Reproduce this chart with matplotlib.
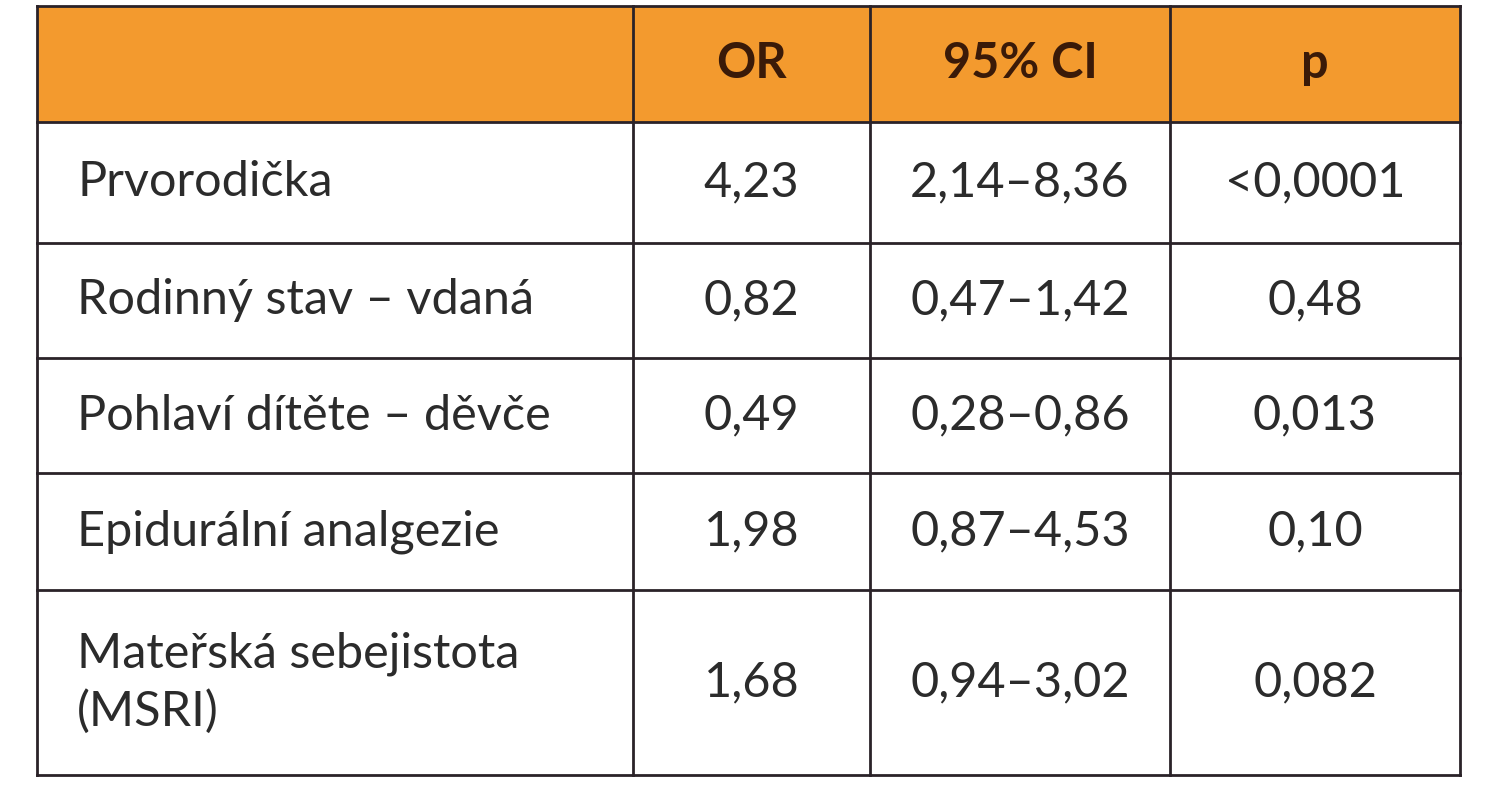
import matplotlib.pyplot as plt

header = ["", "OR", "95% CI", "p"]
labels = ["Prvorodička", "Rodinný stav – vdaná", "Pohlaví dítěte – děvče",
          "Epidurální analgezie", "Mateřská sebejistota\n(MSRI)"]
odds = ["4,23", "0,82", "0,49", "1,98", "1,68"]
ci = ["2,14–8,36", "0,47–1,42", "0,28–0,86", "0,87–4,53", "0,94–3,02"]
pvals = ["<0,0001", "0,48", "0,013", "0,10", "0,082"]

col_x = [37, 633, 870, 1170, 1460]
row_y = [6, 122, 243, 358, 473, 590, 775]

fig = plt.figure(figsize=(14.88, 8), dpi=100)
ax = fig.add_axes([0, 0, 1, 1])
ax.set_xlim(0, 1488)
ax.set_ylim(800, 0)
ax.axis("off")

ax.fill_between([col_x[0], col_x[-1]], row_y[0], row_y[1], color="#F39A2E", lw=0)
lc = "#2a2228"
for y in row_y:
    ax.plot([col_x[0], col_x[-1]], [y, y], color=lc, lw=2)
for x in col_x:
    ax.plot([x, x], [row_y[0], row_y[-1]], color=lc, lw=2)

font = "Lato"
for j, h in enumerate(header):
    if h:
        ax.text((col_x[j] + col_x[j + 1]) / 2, (row_y[0] + row_y[1]) / 2, h,
                ha="center", va="center", fontsize=35, fontweight="bold",
                color="#3a1a08", family=font)

for i in range(len(labels)):
    yc = (row_y[i + 1] + row_y[i + 2]) / 2
    ax.text(col_x[0] + 40, yc, labels[i], ha="left", va="center", fontsize=35,
            color="#2b2b2b", family=font, linespacing=1.35)
    for j, v in enumerate([odds[i], ci[i], pvals[i]]):
        ax.text((col_x[j + 1] + col_x[j + 2]) / 2, yc, v, ha="center", va="center",
                fontsize=35, color="#2b2b2b", family=font)

fig.savefig("out.png", dpi=100)
